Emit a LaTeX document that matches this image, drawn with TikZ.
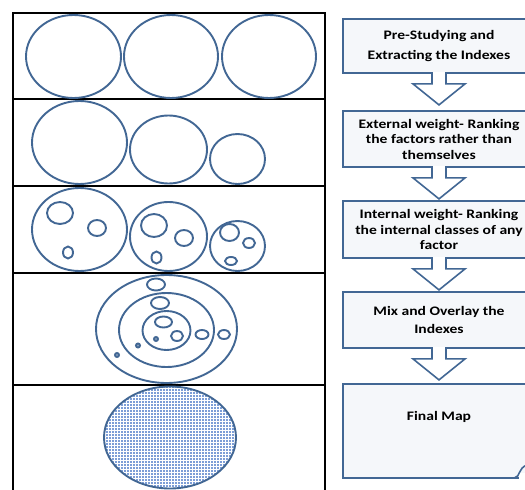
\documentclass[tikz,border=0pt]{standalone}
\usepackage{fontspec}
\setmainfont{Carlito}
\newfontfamily\boxfont[FakeStretch=1.2]{Carlito}
\usetikzlibrary{patterns,calc}
\definecolor{cblue}{RGB}{66,103,148}
\definecolor{boxfill}{RGB}{245,247,250}
\definecolor{mapfill}{RGB}{125,158,215}
\newcommand\blockarrow[1]{%
  \draw[arrowline] let \p1=(#1.south) in
    (\x1-7pt,\y1+1.8pt) -- (\x1-7pt,\y1-10pt) -- (\x1-26pt,\y1-10pt) --
    (\x1,\y1-31pt) -- (\x1+26pt,\y1-10pt) -- (\x1+7pt,\y1-10pt) -- (\x1+7pt,\y1+1.8pt);}
\begin{document}
\begin{tikzpicture}[x=1pt,y=-1pt,
  ring/.style={draw=cblue,line width=1.9pt},
  rule/.style={draw=black,line width=1.5pt},
  box/.style={draw=cblue,line width=1.8pt,fill=boxfill,minimum width=192pt,
    align=center,inner sep=0pt,font=\boxfont\bfseries\fontsize{13}{15.5}\selectfont},
  label/.style={align=center,inner sep=0pt,font=\boxfont\bfseries\fontsize{13}{15.5}\selectfont},
  arrowline/.style={draw=cblue,line width=1.6pt,fill=white,line join=miter}]
\useasboundingbox (0,0) rectangle (525,490);
\clip (0,0) rectangle (525,490);
% table
\draw[rule] (13,492) -- (13,13) -- (325,13) -- (325,492);
\foreach \yy in {99,186,273,385} \draw[rule] (13,\yy) -- (325,\yy);
% row 1
\draw[ring] (73.5,56.5) ellipse [x radius=47.5pt,y radius=41.5pt];
\draw[ring] (171,56.5) ellipse [x radius=47pt,y radius=41.5pt];
\draw[ring] (269,56.5) ellipse [x radius=47pt,y radius=41.5pt];
% row 2
\draw[ring] (79.5,142.5) ellipse [x radius=47.5pt,y radius=41.5pt];
\draw[ring] (168.5,149.5) ellipse [x radius=38.5pt,y radius=34pt];
\draw[ring] (237.5,159) ellipse [x radius=27.5pt,y radius=25pt];
% row 3
\draw[ring] (79.5,229.5) ellipse [x radius=47.5pt,y radius=41.5pt];
\draw[ring] (60,213) ellipse [x radius=13pt,y radius=11pt];
\draw[ring] (97,228) ellipse [x radius=9pt,y radius=8pt];
\draw[ring] (68,252.5) ellipse [x radius=5pt,y radius=6pt];
\draw[ring] (168.5,236.5) ellipse [x radius=38.5pt,y radius=34.5pt];
\draw[ring] (154,225.5) ellipse [x radius=13pt,y radius=11.5pt];
\draw[ring] (184,238) ellipse [x radius=9pt,y radius=8pt];
\draw[ring] (156.5,257.5) ellipse [x radius=5pt,y radius=6pt];
\draw[ring] (237.5,246) ellipse [x radius=27.5pt,y radius=25pt];
\draw[ring] (229.5,232.5) ellipse [x radius=9.5pt,y radius=8.5pt];
\draw[ring] (249,243) ellipse [x radius=6pt,y radius=5pt];
\draw[ring] (231,261) ellipse [x radius=6pt,y radius=4pt];
% row 4
\draw[ring] (166.5,329) ellipse [x radius=70.5pt,y radius=54pt];
\draw[ring] (166.5,330) ellipse [x radius=47.5pt,y radius=37pt];
\draw[ring] (166.5,330.5) ellipse [x radius=24pt,y radius=19.5pt];
\draw[ring] (156,284.5) ellipse [x radius=9pt,y radius=6pt];
\draw[ring] (160,303) ellipse [x radius=9pt,y radius=6pt];
\draw[ring] (163.5,322) ellipse [x radius=8.5pt,y radius=5.5pt];
\draw[ring] (177,336) ellipse [x radius=6pt,y radius=5pt];
\draw[ring] (202,334.5) ellipse [x radius=6.5pt,y radius=4.5pt];
\draw[ring] (224,334.5) ellipse [x radius=6pt,y radius=4.5pt];
\draw[ring,fill=cblue!60] (156,339) circle [radius=2pt];
\draw[ring,fill=cblue!60] (138,345.5) circle [radius=2pt];
\draw[ring,fill=cblue!60] (117,355) circle [radius=2pt];
% row 5
\fill[mapfill] (170,437.5) ellipse [x radius=66pt,y radius=51pt];
\fill[pattern=grid,pattern color=white] (170,437.5) ellipse [x radius=66pt,y radius=51pt];
\draw[ring] (170,437.5) ellipse [x radius=66pt,y radius=51pt];
% flow boxes
\node[box,minimum height=54pt] (b1) at (439,46) {Pre-Studying and\\[5pt]Extracting the Indexes};
\node[box,minimum height=56pt] (b2) at (439,139) {External weight- Ranking\\the factors rather than\\themselves};
\node[box,minimum height=57pt] (b3) at (439,229.5) {Internal weight- Ranking\\the internal classes of any\\factor};
\node[box,minimum height=56pt] (b4) at (439,320) {Mix and Overlay the\\[2.5pt]Indexes};
\node[box,minimum height=94pt] (b5) at (439,431) {};
\node[label] (t5) at (439,417) {Final Map};
\fill[white] (519,473) rectangle (527,481);
\draw[cblue,line width=1.6pt] (515,477.5) .. controls (520,477.5) and (518,468) .. (527,465);
\blockarrow{b1}
\blockarrow{b2}
\blockarrow{b3}
\blockarrow{b4}
\end{tikzpicture}
\end{document}
